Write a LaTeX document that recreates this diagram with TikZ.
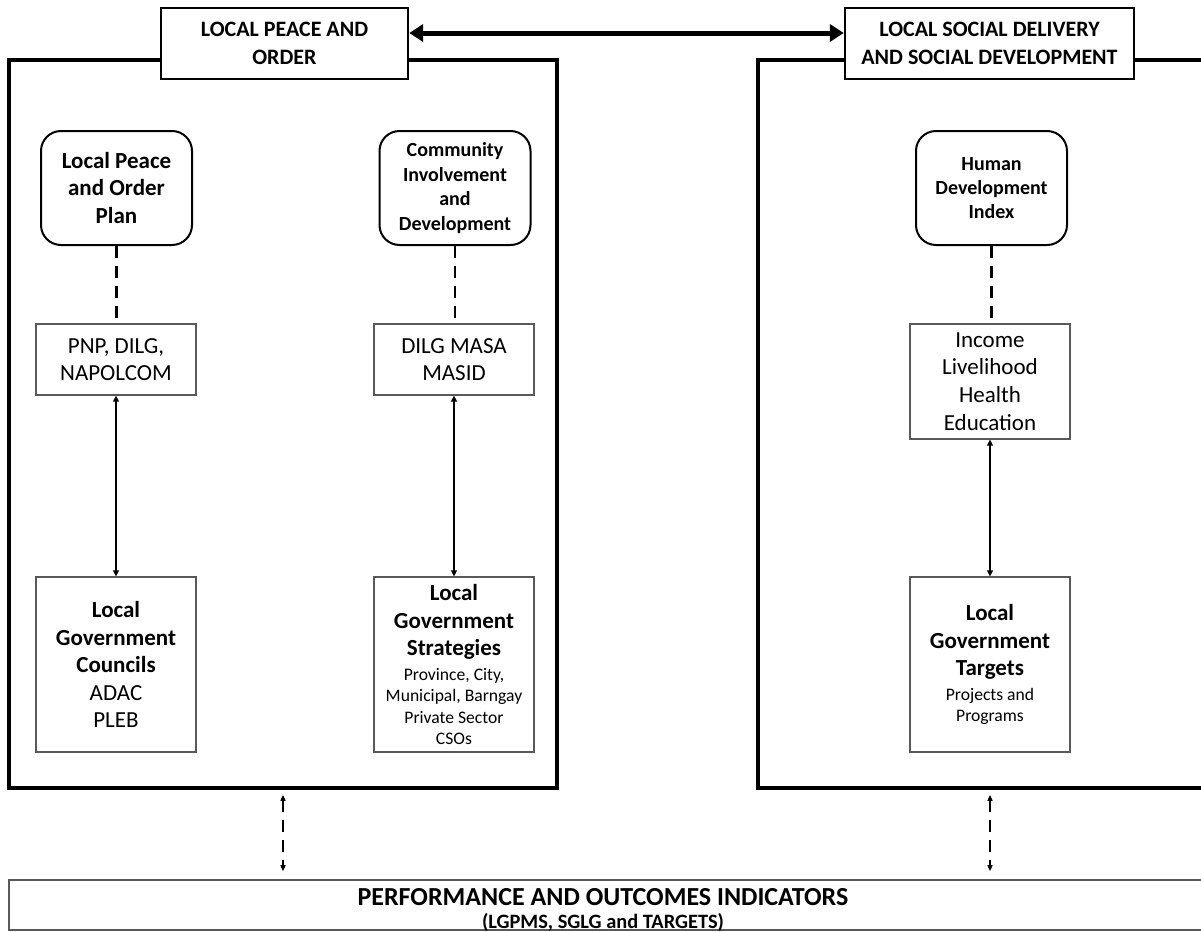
\documentclass[tikz,border=0pt]{standalone}
\usepackage{fontspec}
\setmainfont{Carlito}
\usepackage{tikz}
\usetikzlibrary{calc,arrows.meta}
\newcommand{\lgnote}[1]{{\fontsize{8.8}{10.5}\selectfont #1}}
\tikzset{panel/.style={draw,line width=1.8pt,inner sep=0pt,minimum height=364pt,minimum width=#1},panel/.default=274pt}
\tikzset{heading/.style={draw,fill=white,line width=1.2pt,align=center,inner sep=0pt,minimum height=35.5pt,minimum width=#1,font=\fontsize{11}{14}\selectfont\bfseries},heading/.default=123.5pt}
\tikzset{goal/.style={draw,line width=1pt,rounded corners=10pt,align=center,inner sep=0pt,minimum width=75.5pt,minimum height=57pt,font=#1},goal/.default={\fontsize{11.5}{13.75}\selectfont\bfseries}}
\tikzset{agency/.style={draw=black!65,line width=0.65pt,align=center,inner sep=0pt,minimum width=80pt,minimum height=#1,font=\fontsize{11.5}{13.85}\selectfont},agency/.default=35.5pt}
\tikzset{lgu/.style={draw=black!65,line width=0.65pt,align=center,inner sep=0pt,minimum width=80pt,minimum height=87.5pt,font=\fontsize{11.5}{13.75}\selectfont}}
\tikzset{dashlink/.style={dash pattern=on 6pt off 4pt,line width=1.2pt}}
\tikzset{twoway/.style={{Triangle[length=3pt,width=3pt]}-{Triangle[length=3pt,width=3pt]},line width=1pt}}
\tikzset{feedback/.style={{Triangle[length=3pt,width=2.5pt]}-{Triangle[length=3pt,width=2.5pt]},dash pattern=on 6pt off 4pt,line width=0.7pt}}
\tikzset{bigarrow/.style={{Triangle[length=7pt,width=8.5pt]}-{Triangle[length=7pt,width=8.5pt]},line width=2.5pt}}

\begin{document}
\begin{tikzpicture}[x=0.5pt,y=-0.5pt]

	\useasboundingbox (0,0) rectangle (1201,932);

	% Os dois paineis
	\node [panel] (lpo) at (283,424) {};
	\node [panel=228.5pt] (lsd) at (986.5,424) {};

	% Os titulos dos paineis
	\node [heading] (lpotitle) at (284.5,43.5) {LOCAL PEACE AND\\ORDER};
	\node [heading=144.5pt] (lsdtitle) at (989.5,43.5)
		{LOCAL SOCIAL DELIVERY\\AND SOCIAL DEVELOPMENT};

	% A flecha grossa entre os titulos
	\coordinate (arrow row) at (0,33);
	\draw [bigarrow] (lpotitle.east |- arrow row) -- (lsdtitle.west |- arrow row);

	% As caixas arredondadas
	\node [goal] (lpop) at (116.5,188) {Local Peace\\and Order\\Plan};
	\node [goal={\fontsize{10}{12.2}\selectfont\bfseries}] (cid) at (455,188)
		{Community\\Involvement\\and\\Development};
	\node [goal={\fontsize{10}{12.2}\selectfont\bfseries}] (hdi) at (991.5,188)
		{Human\\Development\\Index};

	% As caixas do meio
	\node [agency] (pnp) at (116,359.5) {PNP, DILG,\\NAPOLCOM};
	\node [agency] (masa) at (454,359.5) {DILG MASA\\MASID};
	\node [agency=57.5pt] (hdx) at (990,381.5)
		{Income\\Livelihood\\Health\\Education};

	% As caixas de baixo
	\node [lgu] (lgc) at (116,664.5)
		{\textbf{Local}\\\textbf{Government}\\\textbf{Councils}\\ADAC\\PLEB};
	\node [lgu] (lgs) at (454,664.5)
		{\textbf{Local}\\\textbf{Government}\\\textbf{Strategies}\\[-1.5pt]
		 \lgnote{Province, City,}\\[-3pt]\lgnote{Municipal, Barngay}\\[-3pt]
		 \lgnote{Private Sector}\\[-3pt]\lgnote{CSOs}};
	\node [lgu] (lgt) at (990,664.5)
		{\textbf{Local}\\\textbf{Government}\\\textbf{Targets}\\[-1.5pt]
		 \lgnote{Projects and}\\[-3pt]\lgnote{Programs}};

	% Linhas tracejadas
	\draw [dashlink] (lpop.south) -- (lpop.south |- pnp.north);
	\draw [dashlink] (cid.south) -- (cid.south |- masa.north);
	\draw [dashlink] (hdi.south) -- (hdi.south |- hdx.north);

	% Flechas duplas
	\draw [twoway] (pnp.south) -- (lgc.north);
	\draw [twoway] (masa.south) -- (lgs.north);
	\draw [twoway] (hdx.south) -- (lgt.north);

	% A caixa dos indicadores
	\node [draw=black!65,line width=0.8pt,inner sep=0pt,minimum width=603pt,
		minimum height=25pt] (poi) at (612,905) {};
	\node [align=center,inner sep=0pt,font=\fontsize{13}{11.5}\selectfont\bfseries]
		(poitext) at (603,910) {PERFORMANCE AND OUTCOMES INDICATORS\\
		 {\fontsize{10.2}{11.5}\selectfont (LGPMS, SGLG and TARGETS)}};

	% Flechas tracejadas para os indicadores
	\draw [feedback,shorten <=2.5pt,shorten >=4pt] (lpo.south) -- (lpo.south |- poi.north);
	\draw [feedback,shorten <=2.5pt,shorten >=4pt] (lgt.south |- lsd.south) -- (lgt.south |- poi.north);

\end{tikzpicture}
\end{document}
